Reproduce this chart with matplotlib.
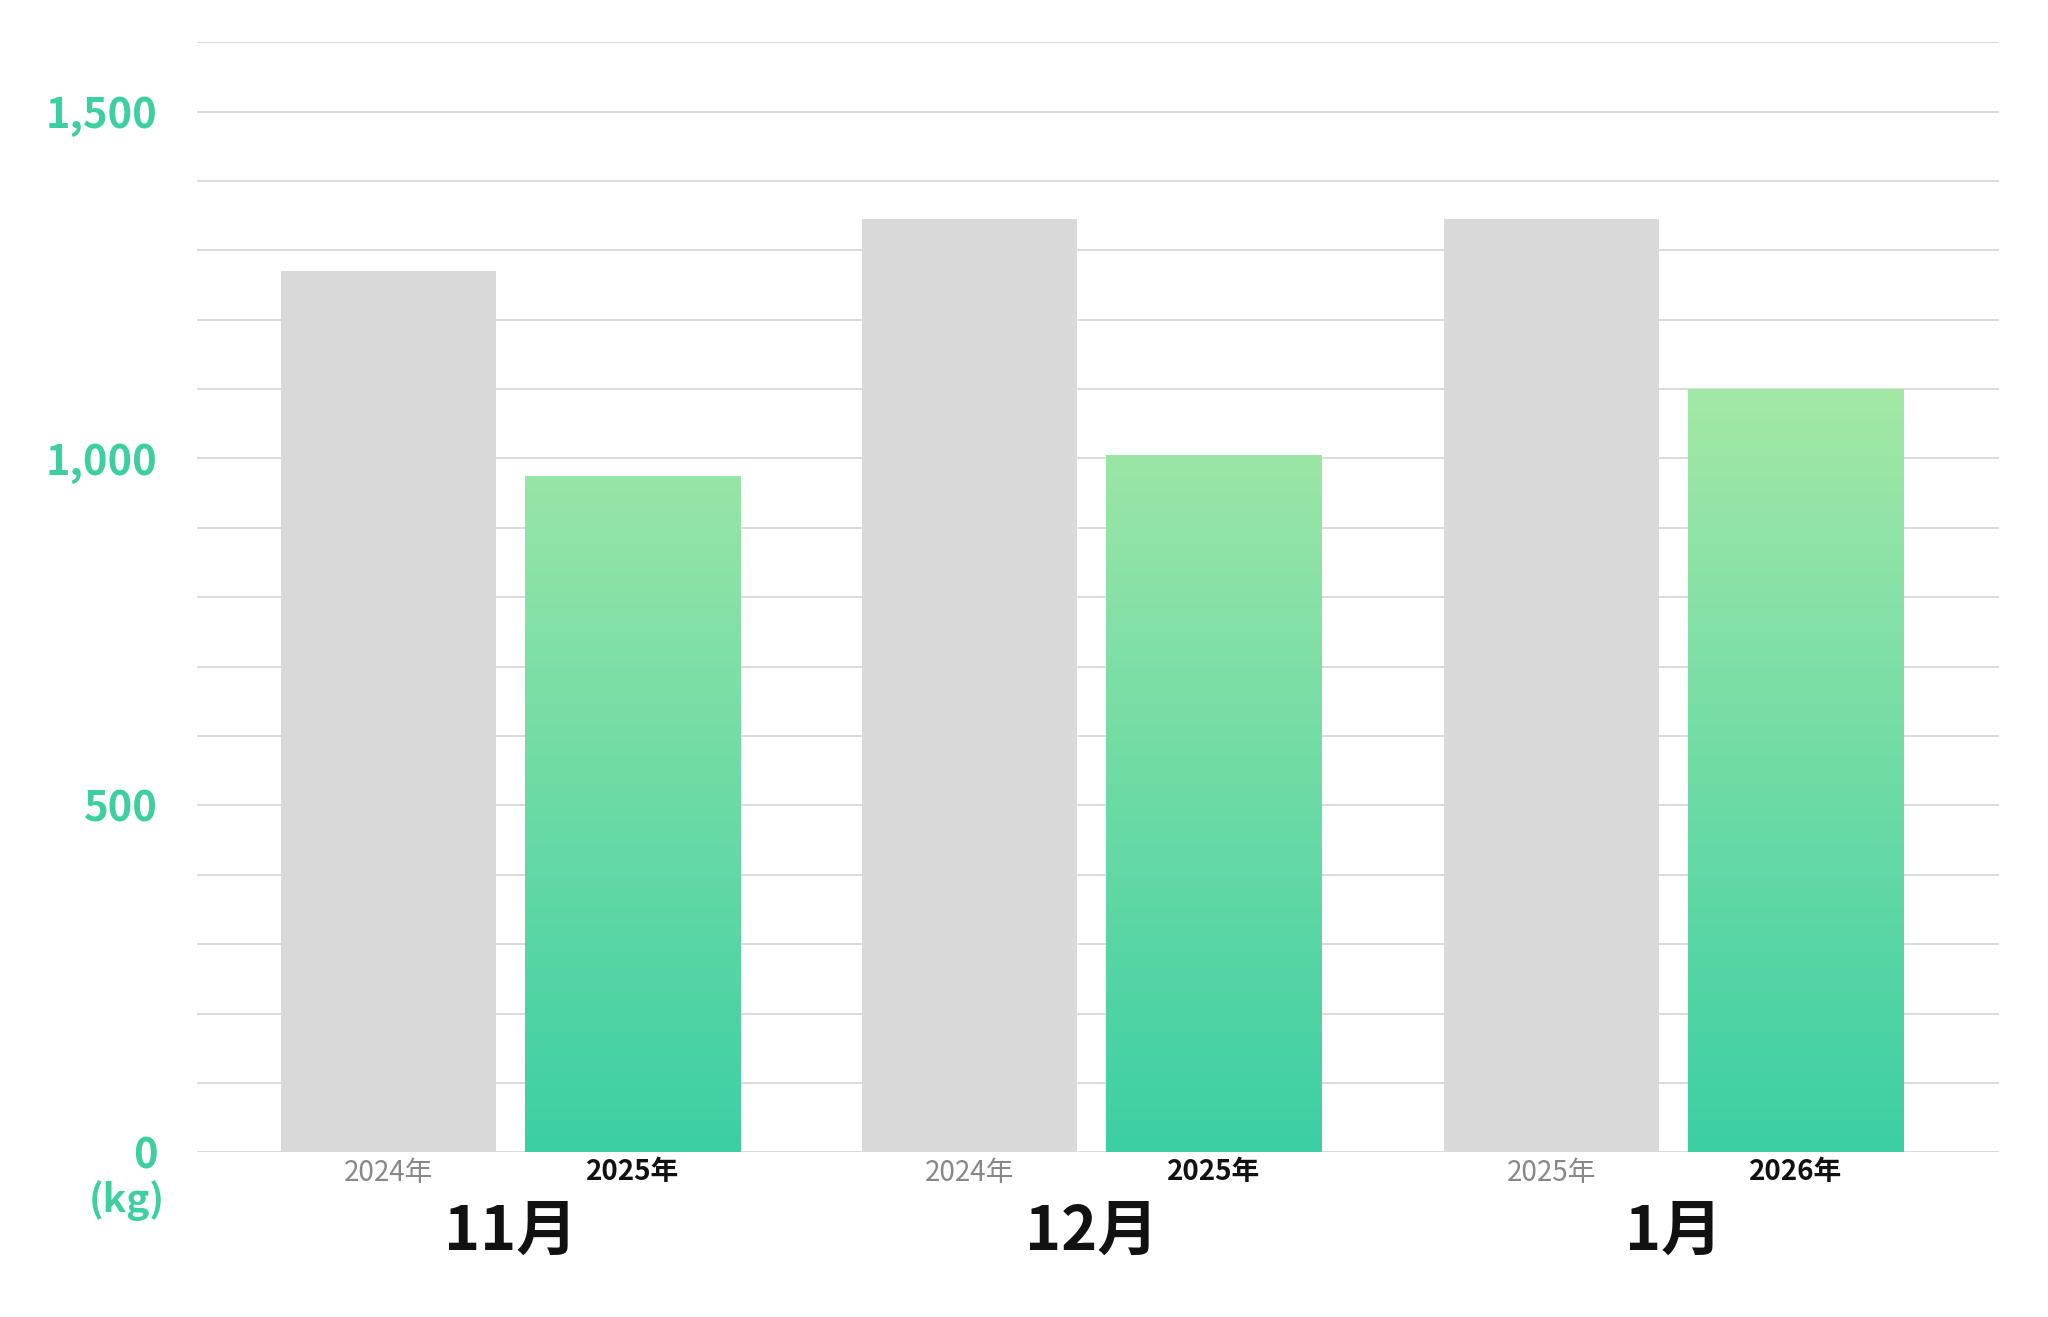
import numpy as np
import matplotlib.pyplot as plt
from matplotlib.colors import LinearSegmentedColormap

plt.rcParams['font.family'] = ['Noto Sans CJK JP', 'DejaVu Sans']

months = ['11月', '12月', '1月']
prev_years = ['2024年', '2024年', '2025年']
curr_years = ['2025年', '2025年', '2026年']
prev_values = [1270, 1345, 1345]
curr_values = [975, 1005, 1100]

fig = plt.figure(figsize=(20.48, 13.17), dpi=100)
ax = fig.add_axes([0.096, 0.125, 0.88, 0.843])

x = np.arange(len(months))
w = 0.37
off = 0.21

ax.bar(x - off, prev_values, w, color='#d9d9d9', zorder=2)

# gradient bars for the current year
cmap = LinearSegmentedColormap.from_list('g', ['#3ccfa4', '#a4e8a7'])
grad = np.linspace(0, 1, 256).reshape(-1, 1)
top = max(curr_values)
for xi, v in zip(x, curr_values):
    bar = ax.bar(xi + off, v, w, color='none', zorder=2)[0]
    im = ax.imshow(grad, cmap=cmap, origin='lower', aspect='auto',
                   extent=[xi + off - w / 2, xi + off + w / 2, 0, top],
                   vmin=0, vmax=1, zorder=2)
    im.set_clip_path(bar)

ax.set_xlim(-0.54, 2.56)
ax.set_ylim(0, 1600)
ax.set_axisbelow(True)
ax.set_yticks([0, 500, 1000, 1500])
ax.set_yticks(np.arange(0, 1601, 100), minor=True)
ax.grid(axis='y', which='both', color='#d4d4d4', linewidth=1.2)
ax.set_yticklabels(['0', '500', '1,000', '1,500'])
ax.tick_params(axis='y', which='both', length=0, labelsize=30, labelcolor='#3ecfa0', pad=28)
for t in ax.get_yticklabels():
    t.set_fontweight('bold')
ax.set_xticks([])
for s in ax.spines.values():
    s.set_visible(False)

for xi, p, c, m in zip(x, prev_years, curr_years, months):
    ax.text(xi - off, -8, p, ha='center', va='top', fontsize=20, color='#888888')
    ax.text(xi + off, -8, c, ha='center', va='top', fontsize=20, color='#111111', fontweight='bold')
    ax.text(xi, -70, m, ha='center', va='top', fontsize=44, color='#111111', fontweight='bold')

ax.text(-0.54 - 0.12, -40, '(kg)', ha='center', va='top', fontsize=28,
        color='#3ecfa0', fontweight='bold')

fig.savefig('out.png', dpi=100)
